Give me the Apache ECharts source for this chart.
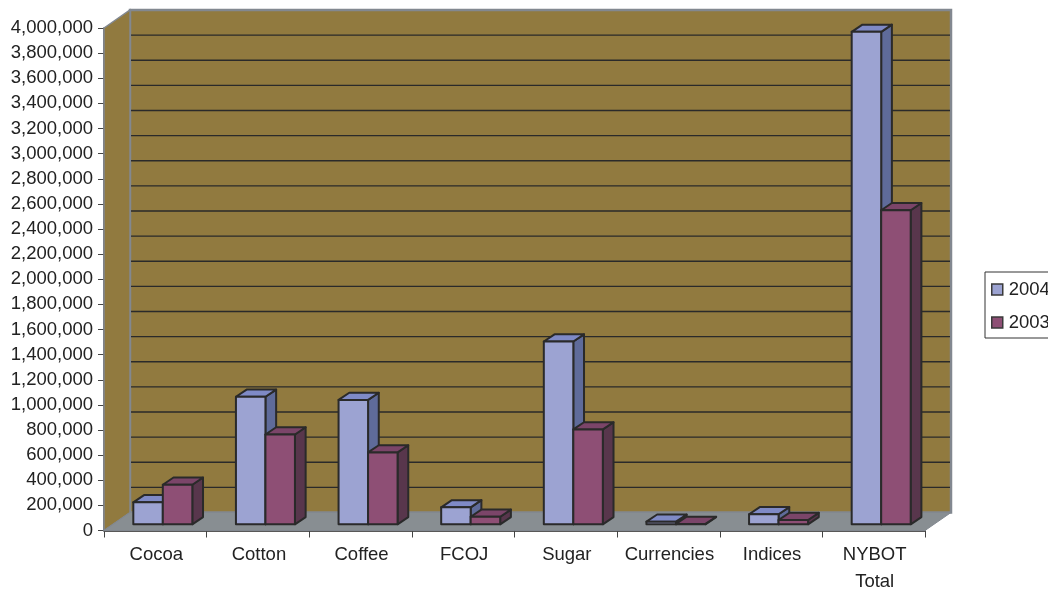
<!DOCTYPE html>
<html>
<head>
<meta charset="utf-8">
<style>html,body{margin:0;padding:0;background:#fff;overflow:hidden}#chart{width:1048px;height:589px}</style>
<script src="https://cdn.jsdelivr.net/npm/echarts@6/dist/echarts.min.js"></script>
</head>
<body>
<div id="chart"></div>
<script>
// NYBOT volume by product group, 2004 against 2003
const categories = ['Cocoa', 'Cotton', 'Coffee', 'FCOJ', 'Sugar', 'Currencies', 'Indices', 'NYBOT\nTotal'];
const volume2004 = [175000, 1015000, 990000, 135000, 1455000, 21000, 80000, 3920000];
const volume2003 = [315000, 715000, 572000, 60000, 755000, 3000, 34000, 2500000];
const yTicks = [200000, 400000, 600000, 800000, 1000000, 1200000, 1400000, 1600000, 1800000, 2000000,
  2200000, 2400000, 2600000, 2800000, 3000000, 3200000, 3400000, 3600000, 3800000];
const yMax = 4000000;

// Oblique projection of the box the bars stand in
const DEPTH_X = 26, DEPTH_Y = -18;
const BAR_SHIFT_X = 7.5, BAR_SHIFT_Y = -6.2, BAR_W = 29.5, BAR_DX = 10.7, BAR_DY = -7.2;
const INK = '#2a2a2a', WALL = '#917a3f', FLOOR = '#888e92', EDGE = '#828890';

const palette = {
  '2004': { front: '#9ca3d2', top: '#7f8ac6', side: '#5f6b9a' },
  '2003': { front: '#8e4f75', top: '#7b4569', side: '#58364c' }
};

function boxShell(params, api) {
  const band = api.size([1, 0])[0];
  const x0 = api.coord([0, 0])[0] - band / 2;
  const x1 = x0 + band * categories.length;
  const y0 = api.coord([0, 0])[1];
  const yT = api.coord([0, yMax])[1];
  return {
    type: 'group',
    children: [
      { type: 'polygon', shape: { points: [[x0 + DEPTH_X, yT + DEPTH_Y], [x1 + DEPTH_X, yT + DEPTH_Y], [x1 + DEPTH_X, y0 + DEPTH_Y], [x0 + DEPTH_X, y0 + DEPTH_Y]] },
        style: { fill: WALL, stroke: EDGE, lineWidth: 2.5 } },
      { type: 'polygon', shape: { points: [[x0, yT], [x0 + DEPTH_X, yT + DEPTH_Y], [x0 + DEPTH_X, y0 + DEPTH_Y], [x0, y0]] },
        style: { fill: WALL, stroke: EDGE, lineWidth: 1.5 } },
      { type: 'polygon', shape: { points: [[x0, y0], [x1, y0], [x1 + DEPTH_X, y0 + DEPTH_Y], [x0 + DEPTH_X, y0 + DEPTH_Y]] },
        style: { fill: FLOOR, stroke: EDGE, lineWidth: 1 } }
    ]
  };
}

function backGridLine(params, api) {
  const band = api.size([1, 0])[0];
  const p = api.coord([0, api.value(0)]);
  const x0 = p[0] - band / 2 + DEPTH_X + 1;
  return {
    type: 'line',
    shape: { x1: x0, y1: p[1] + DEPTH_Y, x2: x0 + band * categories.length - 2, y2: p[1] + DEPTH_Y },
    style: { stroke: INK, lineWidth: 1.3 }
  };
}

function bar3d(seriesKey, slot) {
  const c = palette[seriesKey];
  return function (params, api) {
    const top = api.coord([api.value(0), api.value(1)]);
    const base = api.coord([api.value(0), 0]);
    const xL = top[0] + BAR_SHIFT_X + (slot - 1) * BAR_W;
    const xR = xL + BAR_W;
    const yT = top[1] + BAR_SHIFT_Y;
    const yB = base[1] + BAR_SHIFT_Y;
    const line = { stroke: INK, lineWidth: 2, lineJoin: 'round' };
    return {
      type: 'group',
      children: [
        { type: 'polygon', shape: { points: [[xR, yT], [xR + BAR_DX, yT + BAR_DY], [xR + BAR_DX, yB + BAR_DY], [xR, yB]] },
          style: Object.assign({ fill: c.side }, line) },
        { type: 'polygon', shape: { points: [[xL, yT], [xL + BAR_DX, yT + BAR_DY], [xR + BAR_DX, yT + BAR_DY], [xR, yT]] },
          style: Object.assign({ fill: c.top }, line) },
        { type: 'rect', shape: { x: xL, y: yT, width: BAR_W, height: yB - yT },
          style: Object.assign({ fill: c.front }, line) }
      ]
    };
  };
}

const chart = echarts.init(document.getElementById('chart'), null, { renderer: 'canvas' });
chart.setOption({
  animation: false,
  backgroundColor: '#fff',
  textStyle: { fontFamily: '"Liberation Sans", Arial, sans-serif' },
  grid: { left: 104, width: 821, top: 28, height: 502.5, containLabel: false, outerBoundsMode: 'none' },
  legend: {
    left: 985, top: 272, orient: 'vertical', align: 'left',
    padding: [8, 8, 6, 6], itemGap: 14, itemWidth: 11, itemHeight: 11, icon: 'rect',
    borderColor: '#333', borderWidth: 1, backgroundColor: '#fff',
    data: ['2004', '2003'], selectedMode: false,
    itemStyle: { borderColor: '#3a3a3a', borderWidth: 1.5 },
    textStyle: { fontSize: 18.5, color: '#222', padding: [0, 0, 0, 1], fontFamily: '"Liberation Sans", Arial, sans-serif' }
  },
  xAxis: {
    type: 'category', data: categories, boundaryGap: true,
    axisLine: { lineStyle: { color: '#222', width: 1.5 } },
    axisTick: { show: true, length: 7, alignWithLabel: false, lineStyle: { color: '#444', width: 1 } },
    axisLabel: { color: '#222', fontSize: 18.5, margin: 11, lineHeight: 27, padding: [0, 0, 0, 2], interval: 0 },
    splitLine: { show: false }
  },
  yAxis: {
    type: 'value', min: 0, max: yMax, interval: 200000,
    axisLine: { show: true, lineStyle: { color: '#444', width: 1.5 } },
    axisTick: { show: true, length: 6, lineStyle: { color: '#444', width: 1 } },
    axisLabel: { color: '#222', fontSize: 18.5, margin: 11, formatter: v => v.toLocaleString('en-US') },
    splitLine: { show: false }
  },
  series: [
    { type: 'custom', silent: true, z: 1, coordinateSystem: 'cartesian2d', renderItem: boxShell, data: [[0, 0]], encode: { x: 0, y: 1 } },
    { type: 'custom', silent: true, z: 2, coordinateSystem: 'cartesian2d', renderItem: backGridLine, data: yTicks.map(v => [v]), encode: { y: 0 } },
    { name: '2004', type: 'custom', z: 3, coordinateSystem: 'cartesian2d', renderItem: bar3d('2004', 0),
      itemStyle: { color: palette['2004'].front }, data: volume2004.map((v, i) => [i, v]), encode: { x: 0, y: 1 } },
    { name: '2003', type: 'custom', z: 4, coordinateSystem: 'cartesian2d', renderItem: bar3d('2003', 1),
      itemStyle: { color: palette['2003'].front }, data: volume2003.map((v, i) => [i, v]), encode: { x: 0, y: 1 } }
  ]
});
</script>
</body>
</html>
